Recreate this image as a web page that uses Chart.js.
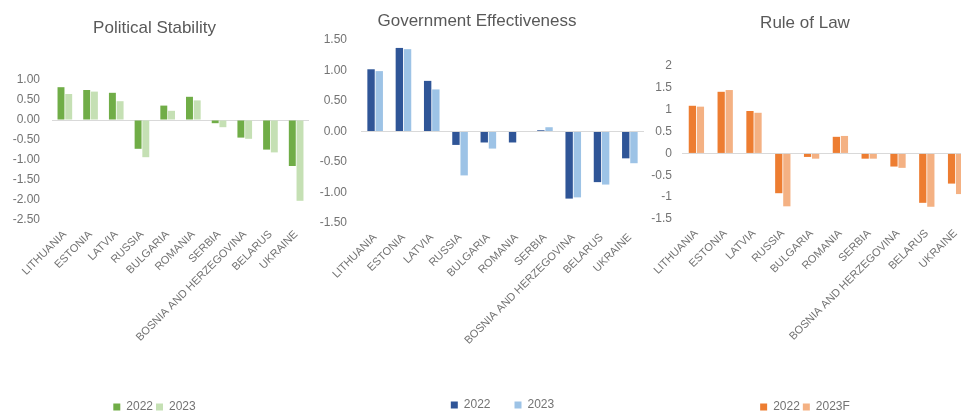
<!DOCTYPE html>
<html>
<head>
<meta charset="utf-8">
<title>Governance indicators</title>
<script src="https://cdn.jsdelivr.net/npm/chart.js@4"></script>
<style>
  html, body { margin: 0; padding: 0; background: #fff; overflow: hidden; }
  #page { position: relative; width: 961px; height: 413px; overflow: hidden; background: #fff; }
  #page canvas { position: absolute; top: 0; }
</style>
</head>
<body>
<div id="page">
  <canvas id="stability-chart" width="314" height="423" style="left:0px"></canvas>
  <canvas id="effectiveness-chart" width="414" height="421" style="left:310px"></canvas>
  <canvas id="law-chart" width="340" height="423" style="left:640px"></canvas>
</div>
<script>
// Data
const countries = ['LITHUANIA', 'ESTONIA', 'LATVIA', 'RUSSIA', 'BULGARIA', 'ROMANIA', 'SERBIA', 'BOSNIA AND HERZEGOVINA', 'BELARUS', 'UKRAINE'];

const stability2022 = [0.82, 0.75, 0.68, -0.72, 0.36, 0.58, -0.08, -0.44, -0.74, -1.15];
const stability2023 = [0.65, 0.71, 0.47, -0.93, 0.23, 0.49, -0.18, -0.47, -0.81, -2.02];

const effectiveness2022 = [1.02, 1.37, 0.83, -0.22, -0.18, -0.18, 0.02, -1.10, -0.83, -0.44];
const effectiveness2023 = [0.99, 1.35, 0.69, -0.72, -0.28, null, 0.07, -1.08, -0.87, -0.52];

const law2022 = [1.09, 1.41, 0.97, -0.91, -0.08, 0.38, -0.12, -0.30, -1.13, -0.69];
const law2023F = [1.07, 1.45, 0.93, -1.21, -0.12, 0.40, -0.12, -0.33, -1.22, -0.93];

const textGray = '#737373';

Chart.defaults.font.family = "'Liberation Sans', Arial, sans-serif";

// Two decimals for the first two charts
const twoDecimals = v => v.toFixed(2);

// Build one grouped bar chart
function buildChart(canvasId, cfg) {
    const ctx = document.getElementById(canvasId).getContext('2d');

    return new Chart(ctx, {
        type: 'bar',
        data: {
            labels: countries,
            datasets: [{
                label: cfg.seriesNames[0],
                data: cfg.series[0],
                backgroundColor: cfg.colors[0],
                barPercentage: 0.9,
                categoryPercentage: cfg.catPct
            }, {
                label: cfg.seriesNames[1],
                data: cfg.series[1],
                backgroundColor: cfg.colors[1],
                barPercentage: 0.9,
                categoryPercentage: cfg.catPct
            }]
        },
        options: {
            responsive: false,
            animation: false,
            layout: {
                padding: { left: 0, right: cfg.padRight, top: 0, bottom: 0 }
            },
            plugins: {
                title: {
                    display: true,
                    text: cfg.title,
                    color: '#595959',
                    font: { size: 17, weight: 'normal', lineHeight: 1.2 },
                    padding: cfg.titlePad
                },
                legend: {
                    position: 'bottom',
                    fullSize: cfg.legendFull,
                    labels: {
                        boxWidth: 7,
                        boxHeight: 7,
                        padding: cfg.legendPad,
                        color: textGray,
                        font: { size: 12 }
                    }
                },
                tooltip: { enabled: false }
            },
            scales: {
                x: {
                    grid: { display: false, drawTicks: false },
                    border: { display: false },
                    ticks: {
                        autoSkip: false,
                        minRotation: 45,
                        maxRotation: 45,
                        padding: 8,
                        color: textGray,
                        font: { size: 11 }
                    },
                    afterFit: scale => { scale.height = cfg.xHeight; }
                },
                y: {
                    min: cfg.min,
                    max: cfg.max,
                    grid: {
                        drawTicks: false,
                        color: c => (c.tick && c.tick.value === 0) ? '#d9d9d9' : 'rgba(0,0,0,0)'
                    },
                    border: { display: false },
                    ticks: {
                        stepSize: 0.5,
                        padding: cfg.yPad,
                        color: textGray,
                        font: { size: 12 },
                        callback: cfg.format
                    },
                    afterFit: scale => { scale.width = cfg.yWidth; }
                }
            }
        }
    });
}

// Political Stability
buildChart('stability-chart', {
    title: 'Political Stability',
    seriesNames: ['2022', '2023'],
    series: [stability2022, stability2023],
    colors: ['#70AD47', '#C5E0B4'],
    min: -2.5, max: 1,
    format: twoDecimals,
    catPct: 0.6,
    padRight: 5,
    yWidth: 52, yPad: 12,
    xHeight: 178,
    titlePad: { top: 17.8, bottom: 41.8 },
    legendPad: 3, legendFull: true
});

// Government Effectiveness
buildChart('effectiveness-chart', {
    title: 'Government Effectiveness',
    seriesNames: ['2022', '2023'],
    series: [effectiveness2022, effectiveness2023],
    colors: ['#2F5597', '#9DC3E6'],
    min: -1.5, max: 1.5,
    format: twoDecimals,
    catPct: 0.58,
    padRight: 80,
    yWidth: 51, yPad: 14,
    xHeight: 152,
    titlePad: { top: 10.8, bottom: 8.8 },
    legendPad: 24, legendFull: false
});

// Rule of Law
buildChart('law-chart', {
    title: 'Rule of Law',
    seriesNames: ['2022', '2023F'],
    series: [law2022, law2023F],
    colors: ['#ED7D31', '#F4B183'],
    min: -1.5, max: 2,
    format: undefined,
    catPct: 0.56,
    padRight: 10,
    yWidth: 42, yPad: 10,
    xHeight: 179,
    titlePad: { top: 12.8, bottom: 32.8 },
    legendPad: 3, legendFull: true
});
</script>
</body>
</html>
